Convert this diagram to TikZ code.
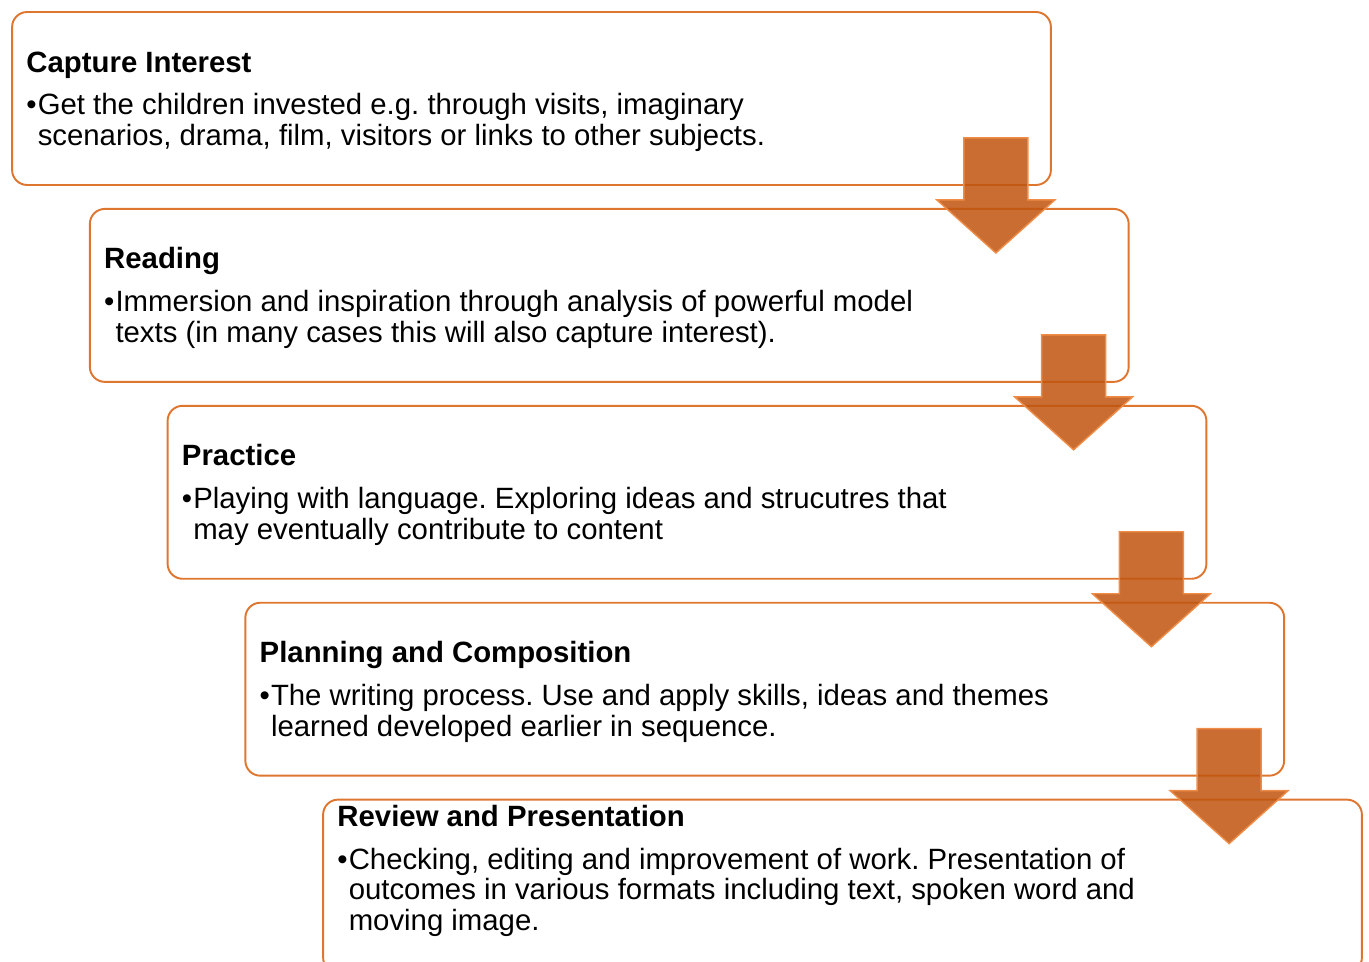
\documentclass[tikz,border=0pt]{standalone}
\usepackage{fontspec}
\setmainfont{Liberation Sans}
\usetikzlibrary{positioning}
\frenchspacing
\definecolor{stageline}{RGB}{222,118,48}
\definecolor{arrowfill}{RGB}{192,84,14}
\definecolor{arrowedge}{RGB}{240,140,70}

% title plus one bullet with hanging lines
\newcommand{\stagetext}[2]{%
  \begin{tabular}{@{}l@{}l@{}}
    \multicolumn{2}{@{}l@{}}{\bfseries #1}\\[0.23cm]
    \textbullet\hspace{0.02cm} & #2
  \end{tabular}}

\begin{document}
\begin{tikzpicture}[
  x=0.02cm, y=-0.02cm,
  stage/.style={rectangle, rounded corners=0.3cm, draw=stageline,
    line width=1.1pt, minimum width=20.78cm, minimum height=3.46cm},
  lbl/.style={inner sep=0pt,
    font=\fontsize{16.7pt}{17.6pt}\selectfont},
  stagearrow/.style={fill=arrowfill, fill opacity=0.85,
    draw=arrowedge, line width=0.8pt}
]
\useasboundingbox (0,0) rectangle (1369,962);

% Stage boxes, each shifted right and down
\node[stage] (capture)  at (531.5,98.5) {};
\node[stage] (reading)  at (609.25,295.4) {};
\node[stage] (practice) at (687,492.3) {};
\node[stage] (planning) at (764.75,689.2) {};
\node[stage] (review)   at (842.5,886.1) {};

% Texts
\node[lbl, anchor=west, xshift=0.3cm, yshift=-0.08cm] (tcapture) at (capture.west)
  {\stagetext{Capture Interest}{Get the children invested e.g. through visits, imaginary\\
   & scenarios, drama, film, visitors or links to other subjects.}};
\node[lbl, anchor=west, xshift=0.3cm, yshift=-0.08cm] (treading) at (reading.west)
  {\stagetext{Reading}{Immersion and inspiration through analysis of powerful model\\
   & texts (in many cases this will also capture interest).}};
\node[lbl, anchor=west, xshift=0.3cm, yshift=-0.08cm] (tpractice) at (practice.west)
  {\stagetext{Practice}{Playing with language. Exploring ideas and strucutres that\\
   & may eventually contribute to content}};
\node[lbl, anchor=west, xshift=0.3cm, yshift=-0.08cm] (tplanning) at (planning.west)
  {\stagetext{Planning and Composition}{The writing process. Use and apply skills, ideas and themes\\
   & learned developed earlier in sequence.}};
\node[lbl, anchor=north west, xshift=0.3cm, yshift=-0.12cm] (treview) at (review.north west)
  {\stagetext{Review and Presentation}{Checking, editing and improvement of work. Presentation of\\
   & outcomes in various formats including text, spoken word and\\
   & moving image.}};

% Block arrows down to the next stage
\foreach \s in {capture, reading, practice, planning}{
  \begin{scope}[shift={(\s.south east)}]
    \draw[stagearrow] (-88,-48) -- (-24,-48) -- (-24,14) -- (3,14)
      -- (-56,67) -- (-115,14) -- (-88,14) -- cycle;
  \end{scope}
}
\end{tikzpicture}
\end{document}
